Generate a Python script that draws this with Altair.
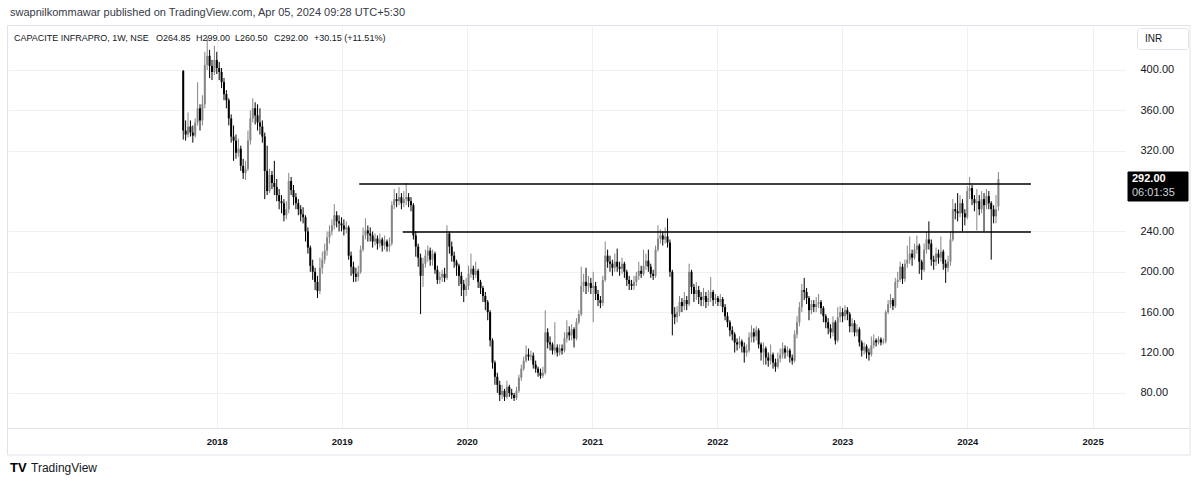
import altair as alt
import pandas as pd

# ---------------- data ----------------
first_week = "2017-09-25"
first_open = 399.0
last_open = 264.85

closes = [
    340, 336, 344, 338, 335, 348, 362, 350, 366, 405,
    414, 404, 398, 410, 402, 398, 388, 376, 370, 352,
    334, 330, 318, 322, 305, 298, 302, 330, 352, 362,
    355, 348, 344, 334, 300, 280, 296, 288, 284, 276,
    270, 268, 256, 262, 290, 281, 274, 268, 262, 257,
    254, 240, 224, 206, 200, 190, 181, 204, 212, 221,
    234, 240, 246, 256, 250, 248, 246, 242, 244, 216,
    205, 198, 195, 200, 222, 236, 241, 238, 236, 230,
    233, 228, 232, 226, 230, 225, 228, 266, 272, 270,
    274, 268, 272, 274, 270, 266, 236, 225, 214, 196,
    208, 216, 221, 212, 218, 202, 192, 195, 198, 194,
    238, 225, 216, 210, 206, 196, 188, 182, 186, 198,
    203, 197, 201, 190, 184, 176, 170, 160, 132, 110,
    96, 88, 78, 82, 76, 86, 80, 78, 75, 82,
    95, 104, 112, 118, 116, 117, 108, 104, 100, 97,
    100, 140, 130, 128, 122, 125, 120, 124, 122, 134,
    140, 137, 143, 134, 150, 158, 186, 190, 186, 189,
    184, 186, 178, 172, 169, 192, 216, 210, 208, 204,
    210, 205, 203, 208, 200, 192, 188, 186, 190, 196,
    201, 198, 206, 211, 205, 198, 196, 222, 233, 236,
    232, 235, 229, 200, 158, 155, 160, 170, 166, 172,
    168, 200, 185, 178, 182, 175, 172, 176, 170, 174,
    180, 172, 174, 170, 173, 165, 156, 150, 142, 138,
    130, 128, 131, 126, 120, 122, 135, 140, 136, 142,
    128, 120, 124, 115, 112, 118, 110, 106, 114, 118,
    124, 120, 122, 115, 112, 138, 150, 165, 182, 180,
    174, 162, 168, 165, 168, 170, 164, 156, 150, 144,
    140, 150, 132, 155, 160, 156, 162, 158, 146, 149,
    140, 143, 130, 122, 126, 120, 118, 127, 132, 130,
    133, 130, 131, 160, 168, 172, 166, 190, 192, 205,
    193, 208, 212, 218, 214, 222, 226, 210, 202, 222,
    232, 228, 212, 210, 218, 214, 220, 208, 204, 210,
    232, 262, 260, 258, 268, 258, 254, 280, 283, 272,
    268, 270, 262, 272, 266, 275, 268, 262, 255, 261.85,
    292,
]

highs = [
    400, 350, 358, 350, 345, 352, 388, 366, 375, 418,
    432, 420, 410, 424, 418, 408, 402, 392, 380, 372,
    356, 345, 336, 332, 325, 312, 310, 340, 360, 372,
    368, 366, 362, 350, 338, 325, 302, 300, 310, 292,
    282, 276, 272, 270, 298, 294, 286, 278, 272, 266,
    264, 256, 244, 226, 212, 204, 196, 214, 220, 228,
    240, 246, 252, 267, 260, 256, 254, 252, 250, 246,
    220, 210, 204, 206, 226, 244, 253, 246, 244, 240,
    238, 236, 238, 234, 236, 232, 234, 270, 282, 278,
    284, 278, 280, 288, 278, 274, 268, 240, 228, 218,
    214, 222, 226, 224, 222, 220, 206, 200, 202, 204,
    246, 240, 230, 220, 212, 208, 200, 192, 194, 206,
    218, 206, 210, 203, 192, 186, 180, 172, 162, 134,
    112, 100, 92, 88, 84, 92, 88, 84, 80, 86,
    98, 108, 116, 127, 124, 122, 120, 112, 106, 104,
    106, 162, 144, 136, 130, 150, 128, 128, 128, 140,
    152, 146, 148, 145, 154, 162, 205, 198, 204, 196,
    194, 200, 190, 182, 176, 196, 230, 222, 216, 212,
    218, 223, 210, 214, 210, 202, 196, 192, 196, 200,
    210, 206, 222, 218, 222, 208, 202, 226, 246, 242,
    240, 244, 253, 232, 202, 165, 166, 176, 174, 180,
    176, 208, 202, 188, 190, 186, 180, 184, 180, 182,
    195, 182, 178, 176, 178, 175, 168, 160, 152, 146,
    140, 134, 136, 133, 130, 128, 140, 147, 144, 146,
    144, 130, 130, 126, 120, 128, 120, 114, 120, 124,
    130, 127, 126, 124, 118, 142, 156, 170, 188, 194,
    184, 176, 172, 172, 175, 178, 172, 166, 158, 154,
    148, 156, 152, 165, 166, 164, 167, 165, 160, 154,
    152, 148, 145, 132, 130, 128, 124, 136, 138, 134,
    136, 135, 134, 162, 172, 178, 174, 194, 200, 210,
    208, 212, 226, 235, 222, 228, 236, 228, 212, 228,
    240, 250, 232, 216, 224, 222, 235, 222, 212, 216,
    240, 272, 268, 278, 276, 272, 262, 285, 294, 286,
    276, 282, 276, 280, 278, 282, 280, 270, 266, 276,
    299,
]

lows = [
    331, 330, 333, 334, 328, 333, 345, 340, 345, 362,
    400, 392, 390, 395, 396, 390, 382, 370, 362, 345,
    328, 310, 312, 314, 300, 292, 291, 300, 326, 348,
    346, 340, 336, 328, 272, 276, 278, 282, 276, 270,
    262, 258, 250, 252, 258, 276, 266, 262, 256, 250,
    248, 230, 218, 200, 192, 182, 174, 178, 198, 208,
    216, 228, 236, 242, 244, 240, 240, 236, 238, 212,
    196, 190, 190, 191, 198, 220, 232, 230, 230, 224,
    226, 222, 224, 220, 222, 220, 220, 226, 262, 264,
    266, 262, 264, 266, 264, 260, 232, 215, 205, 158,
    185, 204, 210, 206, 206, 198, 188, 188, 190, 190,
    192, 218, 210, 204, 196, 186, 176, 170, 176, 182,
    194, 192, 194, 184, 178, 170, 162, 152, 126, 104,
    88, 80, 72, 74, 72, 74, 76, 74, 72, 73,
    80, 92, 102, 110, 112, 112, 104, 100, 96, 94,
    95, 98, 124, 122, 118, 118, 116, 117, 118, 120,
    130, 132, 132, 125, 132, 148, 156, 180, 178, 180,
    178, 150, 172, 166, 164, 166, 190, 204, 200, 196,
    200, 200, 196, 198, 194, 186, 182, 182, 182, 186,
    192, 194, 196, 202, 200, 194, 192, 194, 220, 228,
    226, 228, 224, 195, 137, 148, 150, 156, 160, 162,
    162, 166, 178, 170, 172, 168, 166, 166, 164, 166,
    170, 166, 168, 166, 166, 160, 152, 145, 136, 132,
    120, 122, 124, 120, 110, 116, 120, 130, 130, 132,
    124, 112, 108, 108, 106, 108, 104, 101, 104, 110,
    114, 114, 116, 110, 108, 110, 134, 146, 160, 172,
    168, 152, 158, 160, 160, 164, 158, 150, 144, 138,
    134, 136, 128, 130, 150, 150, 152, 152, 140, 140,
    136, 136, 126, 116, 118, 114, 112, 116, 124, 126,
    128, 127, 128, 129, 158, 164, 162, 164, 184, 190,
    188, 190, 204, 208, 206, 212, 218, 198, 192, 200,
    218, 222, 206, 202, 206, 208, 210, 202, 189, 200,
    206, 230, 252, 250, 254, 240, 246, 252, 272, 266,
    260, 241, 256, 258, 240, 262, 262, 212, 248, 248,
    260.5,
]

year_ticks = [2018, 2019, 2020, 2021, 2022, 2023, 2024, 2025]
price_ticks = [80, 120, 160, 200, 240, 320, 360, 400]  # 280 is covered by the price tag

level_prices = [287.0, 239.5]
level_starts = ["2019-02-21", "2019-06-28"]
level_ends = ["2024-07-05", "2024-07-05"]

header_text = "swapnilkommawar published on TradingView.com, Apr 05, 2024 09:28 UTC+5:30"
legend_parts = ["CAPACITE INFRAPRO, 1W, NSE", "O264.85", "H299.00", "L260.50", "C292.00", "+30.15 (+11.51%)"]
tag_time = "06:01:35"
currency = "INR"

assert len(closes) == len(highs) == len(lows)

# ---------------- tables ----------------
dates = pd.date_range(first_week, periods=len(closes), freq="7D")
opens = [first_open] + closes[:-1]
opens[-1] = last_open
df = pd.DataFrame({"date": dates, "open": opens, "high": highs, "low": lows, "close": closes})
df["dir"] = ["up" if c >= o else "down" for o, c in zip(df["open"], df["close"])]

levels = pd.DataFrame({
    "start": pd.to_datetime(level_starts),
    "end": pd.to_datetime(level_ends),
    "price": level_prices,
})

W, H = 1117, 402
FONT = "Liberation Sans"
DARK = "#131722"

xscale = alt.Scale(domain=[alt.DateTime(year=2016, month=5, date=16),
                           alt.DateTime(year=2025, month=3, date=22)])
yscale = alt.Scale(domain=[45.2, 443.6], nice=False, zero=False)

xaxis = alt.Axis(values=[alt.DateTime(year=y, month=1, date=1) for y in year_ticks],
                 format="%Y", grid=True, gridColor="#eef0f5", ticks=False, domain=False,
                 labelColor=DARK, labelFontSize=9.5, labelFontWeight="bold",
                 labelPadding=8, labelFont=FONT, title=None)
yaxis = alt.Axis(orient="right", values=price_ticks, format=".2f", grid=True,
                 gridColor="#eef0f5", ticks=False, domain=False,
                 labelColor=DARK, labelFontSize=11, labelPadding=15, labelFont=FONT,
                 labelAlign="left", title=None)

color = alt.Color("dir:N", scale=alt.Scale(domain=["up", "down"], range=["#858585", "#000000"]),
                  legend=None)

base = alt.Chart(df)
wicks = base.mark_rule(strokeWidth=1).encode(
    x=alt.X("date:T", scale=xscale, axis=xaxis),
    y=alt.Y("low:Q", scale=yscale, axis=yaxis),
    y2="high:Q",
    color=color,
)
bodies = base.mark_bar(size=2).encode(
    x=alt.X("date:T", scale=xscale, axis=xaxis),
    y=alt.Y("open:Q", scale=yscale, axis=yaxis),
    y2="close:Q",
    color=color,
)
lines = alt.Chart(levels).mark_rule(color="#000000", strokeWidth=1.6).encode(
    x=alt.X("start:T", scale=xscale, axis=xaxis),
    x2="end:T",
    y=alt.Y("price:Q", scale=yscale, axis=yaxis),
)

one = pd.DataFrame({"k": [0]})


def txt(s, x, y, size=11, color=DARK, weight="normal", align="left"):
    return alt.Chart(one).mark_text(
        text=s, align=align, baseline="middle", fontSize=size, font=FONT,
        color=color, fontWeight=weight,
    ).encode(x=alt.value(x), y=alt.value(y))


def box(x1, x2, y1, y2, fill, stroke, radius=0, sw=1):
    return alt.Chart(one).mark_rect(
        fill=fill, stroke=stroke, strokeWidth=sw, cornerRadius=radius,
    ).encode(x=alt.value(x1), x2=alt.value(x2), y=alt.value(y1), y2=alt.value(y2))


border = box(-0.5, 1182, -0.5, 429, "transparent", "#e0e3eb")
sep = alt.Chart(one).mark_rule(color="#e0e3eb", strokeWidth=1).encode(
    x=alt.value(-0.5), x2=alt.value(1182), y=alt.value(H + 0.5))

header = txt(header_text, 2, -13, size=11, color="#363a45")
legend_x = [6, 148, 188, 227, 266, 306]
legend_layers = [txt(p, x, 12, size=9) for p, x in zip(legend_parts, legend_x)]

inr_box = box(1129.5, 1180.5, 2.5, 23.5, "white", "#e0e3eb", radius=3)
inr_txt = txt(currency, 1137, 13, size=10)

tag_box = box(1120, 1180, 146, 175, "#000000", "#000000")
tag_price = txt(f"{closes[-1]:.2f}", 1124, 153, size=11, color="white", weight="bold")
tag_clock = txt(tag_time, 1124, 167, size=11, color="#d1d4dc")

logo_tv = txt("TV", 2, 442, size=13, color="#000000", weight="bold")
logo_txt = txt("TradingView", 23, 442, size=12, color=DARK)

chart = alt.layer(
    wicks, bodies, lines, border, sep, header, *legend_layers,
    inr_box, inr_txt, tag_box, tag_price, tag_clock, logo_tv, logo_txt,
).properties(
    width=W, height=H,
    autosize=alt.AutoSizeParams(type="none"),
    padding={"left": 8, "top": 26, "right": 75, "bottom": 56},
    background="white",
).configure_view(stroke=None)

chart.save("out.html", embed_options={"renderer": "svg", "actions": False})
